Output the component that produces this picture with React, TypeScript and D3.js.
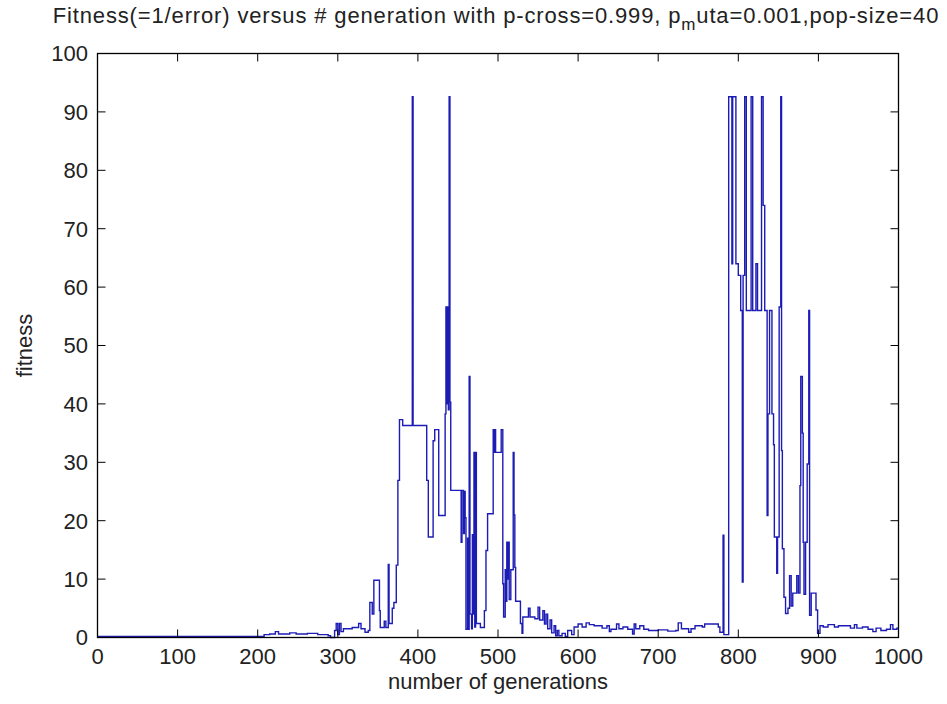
import React from "react";
import * as d3 from "d3";

const titleMain = "Fitness(=1/error) versus # generation with p-cross=0.999, p";
const titleSub = "m";
const titleEnd = "uta=0.001,pop-size=40";
const xLabel = "number of generations";
const yLabel = "fitness";
const xTicks = [0, 100, 200, 300, 400, 500, 600, 700, 800, 900, 1000];
const yTicks = [0, 10, 20, 30, 40, 50, 60, 70, 80, 90, 100];

const generations = [
  0, 208, 215, 222, 226, 240, 248, 262, 275, 288, 291, 296, 298, 300, 302, 304, 307, 318, 326, 329,
  334, 338, 340, 343, 345, 352, 353, 358, 360, 363, 364, 368, 370, 373, 375, 377, 381, 393, 394, 411,
  413, 419, 421, 426, 434, 435, 436, 437, 438, 439, 440, 441, 454, 455, 457, 458, 459, 460, 462, 463,
  464, 465, 467, 468, 469, 470, 471, 472, 473, 478, 483, 485, 487, 494, 495, 496, 497, 504, 506, 507,
  509, 510, 511, 512, 513, 514, 516, 519, 520, 521, 522, 528, 530, 531, 538, 540, 546, 550, 552, 556,
  558, 560, 562, 565, 567, 570, 572, 574, 576, 580, 584, 587, 592, 595, 600, 605, 610, 614, 620, 630,
  636, 639, 641, 648, 651, 656, 662, 668, 670, 672, 677, 682, 688, 700, 712, 722, 725, 729, 738, 741,
  746, 755, 758, 775, 777, 781, 782, 787, 788, 792, 793, 797, 800, 803, 805, 806, 808, 810, 816, 818,
  822, 824, 829, 831, 833, 836, 837, 839, 842, 844, 845, 848, 849, 851, 853, 854, 855, 857,
  859, 862, 864, 866, 868, 873, 875, 877, 878, 880, 881, 882, 884, 886, 888, 889, 891, 897, 899, 902,
  906, 912, 920, 925, 935, 940, 945, 948, 955, 962, 968, 972, 978, 985, 990, 993, 998, 1000,
];
const fitness = [
  0.2, 0.5, 0.6, 1.0, 0.6, 0.8, 0.6, 0.7, 0.5, 0.3, 0.0, 1.2, 2.4, 0.5, 2.4, 1.0, 1.5, 1.7, 2.4, 1.5,
  0.9, 1.2, 6.0, 4.0, 9.8, 4.6, 1.7, 2.8, 1.7, 12.5, 2.4, 5.0, 6.0, 12.4, 26.9, 37.3, 36.3, 92.6, 36.3, 26.9,
  17.2, 33.7, 35.6, 20.9, 38.3, 56.6, 40, 56.6, 39, 92.6, 40.3, 25.2, 16.3, 25.2, 17.8, 25.0, 20.5, 1.4, 17, 1.4,
  44.7, 4, 1.5, 17.6, 4, 31.7, 1.8, 31.7, 2.4, 1.7, 4.6, 14.9, 21.2, 35.6, 31.7, 35.6, 31.7, 35.6, 9.2, 3.5,
  11.6, 6.2, 16.3, 10, 16.3, 6.5, 11.6, 31.7, 21, 12, 6.2, 2.4, 0.7, 3.5, 5.0, 3.5, 3.2, 5.2, 3.0, 4.6,
  2.3, 4.0, 1.5, 3.0, 0.8, 2.0, 0.3, 1.2, 0.3, 0.7, 0.2, 1.2, 0.5, 1.8, 2.3, 1.8, 2.5, 2.2, 2.0, 1.6,
  2.0, 1.0, 1.4, 2.3, 1.5, 1.8, 1.4, 0.6, 2.3, 1.5, 2.0, 1.4, 1.2, 1.3, 1.1, 1.2, 2.5, 1.5, 0.9, 1.5,
  2.0, 1.8, 2.3, 1.8, 0.9, 17.5, 0.5, 0.5, 92.6, 64, 92.6, 64, 62, 56, 9.5, 62, 92.6, 56, 92.6, 56,
  64, 56, 92.6, 74, 56, 20.9, 38.3, 56, 38.3, 33, 17.2, 11, 17.2, 56.6, 92.6, 32, 15.2, 6.9,
  4.1, 5.0, 10.6, 5.4, 7.6, 10.6, 7.6, 26, 44.7, 35, 16.3, 7.4, 16.3, 29.7, 56, 3.8, 7.6, 4.7, 0.7, 2.0,
  1.8, 2.2, 1.8, 2.0, 2.0, 1.6, 2.2, 1.6, 1.8, 1.4, 1.0, 1.6, 1.2, 1.4, 2.2, 1.4, 1.6, 1.6,
];

const W = 947;
const H = 704;
const left = 97.5;
const right = 898.5;
const top = 53.5;
const bottom = 637.5;
const FONT = "'Liberation Sans', Arial, sans-serif";
const FS = 22;

export default function App() {
  const x = d3.scaleLinear().domain([0, 1000]).range([left, right]);
  const y = d3.scaleLinear().domain([0, 100]).range([bottom, top]);
  const pts: [number, number][] = generations.map((g, i) => [g, fitness[i]]);
  const line = d3
    .line<[number, number]>()
    .x((d) => x(d[0]))
    .y((d) => y(d[1]))
    .curve(d3.curveStepAfter);
  const tl = 8;
  return (
    <svg
      width={W}
      height={H}
      style={{ position: "fixed", left: 0, top: 0, background: "#fff" }}
      fontFamily={FONT}
    >
      <rect x={0} y={0} width={W} height={H} fill="#fff" />
      <path d={line(pts) || ""} fill="none" stroke="#1c1cb4" strokeWidth={1.4} />
      <rect x={left} y={top} width={right - left} height={bottom - top} fill="none" stroke="#000" strokeWidth={1.3} />
      {xTicks.map((t) => (
        <g key={"x" + t}>
          <line x1={x(t)} x2={x(t)} y1={bottom} y2={bottom - tl} stroke="#000" />
          <line x1={x(t)} x2={x(t)} y1={top} y2={top + tl} stroke="#000" />
          <text x={x(t)} y={664} textAnchor="middle" fontSize={FS} fill="#222">
            {t}
          </text>
        </g>
      ))}
      {yTicks.map((t) => (
        <g key={"y" + t}>
          <line x1={left} x2={left + tl} y1={y(t)} y2={y(t)} stroke="#000" />
          <line x1={right} x2={right - tl} y1={y(t)} y2={y(t)} stroke="#000" />
          <text x={88} y={y(t)} dy="0.36em" textAnchor="end" fontSize={FS} fill="#222">
            {t}
          </text>
        </g>
      ))}
      <text x={496} y={23} textAnchor="middle" fontSize={FS} fill="#222" letterSpacing={0.85}>
        {titleMain}
        <tspan dy={7} fontSize={17}>{titleSub}</tspan>
        <tspan dy={-7}>{titleEnd}</tspan>
      </text>
      <text x={(left + right) / 2} y={689} textAnchor="middle" fontSize={FS} fill="#222">
        {xLabel}
      </text>
      <text transform={`translate(32, ${(top + bottom) / 2}) rotate(-90)`} textAnchor="middle" fontSize={FS} fill="#222">
        {yLabel}
      </text>
    </svg>
  );
}
